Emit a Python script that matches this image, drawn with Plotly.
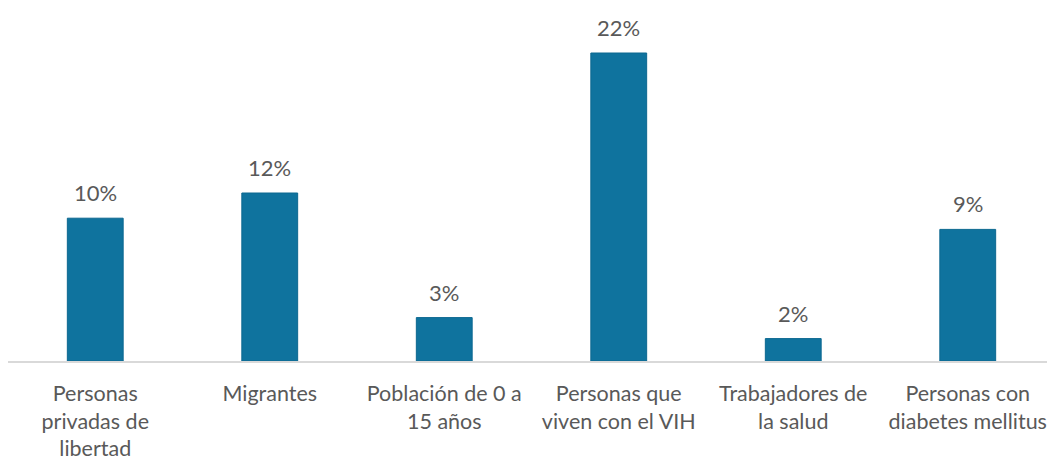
import plotly.graph_objects as go

categories = [
    "Personas<br>privadas de<br>libertad",
    "Migrantes",
    "Población de 0 a<br>15 años",
    "Personas que<br>viven con el VIH",
    "Trabajadores de<br>la salud",
    "Personas con<br>diabetes mellitus",
]
shares = [0.102, 0.120, 0.031, 0.220, 0.016, 0.094]

BAR_COLOR = "#0f739e"
TEXT_COLOR = "#595959"
FONT = "Lato, 'Open Sans', sans-serif"

fig = go.Figure()
fig.add_trace(
    go.Bar(
        x=categories,
        y=shares,
        marker={"color": BAR_COLOR, "line": {"color": "#0c6890", "width": 1}},
        width=0.32,
        hoverinfo="skip",
    )
)

# etykiety danych nad słupkami
for cat, val in zip(categories, shares):
    fig.add_annotation(
        x=cat,
        y=val,
        text=f"{val:.0%}",
        showarrow=False,
        yanchor="bottom",
        yshift=10,
        font={"size": 22, "color": TEXT_COLOR, "family": FONT},
    )

# strona ma 8px marginesu body, więc rozmiar figury jest o 8px mniejszy
fig.update_layout(
    width=1047,
    height=452,
    margin={"l": 0, "r": 0, "t": 3, "b": 99},
    paper_bgcolor="white",
    plot_bgcolor="white",
    showlegend=False,
    font={"family": FONT, "size": 22, "color": TEXT_COLOR},
    xaxis={
        "showline": True,
        "linecolor": "#d9d9d9",
        "linewidth": 1.5,
        "showgrid": False,
        "ticks": "outside",
        "ticklen": 12,
        "tickcolor": "rgba(0,0,0,0)",
        "tickfont": {"size": 21.5, "color": TEXT_COLOR},
        "automargin": False,
        "fixedrange": True,
    },
    yaxis={
        "range": [0, 0.25],
        "visible": False,
        "automargin": False,
        "fixedrange": True,
    },
)

fig.write_html("out.html")
